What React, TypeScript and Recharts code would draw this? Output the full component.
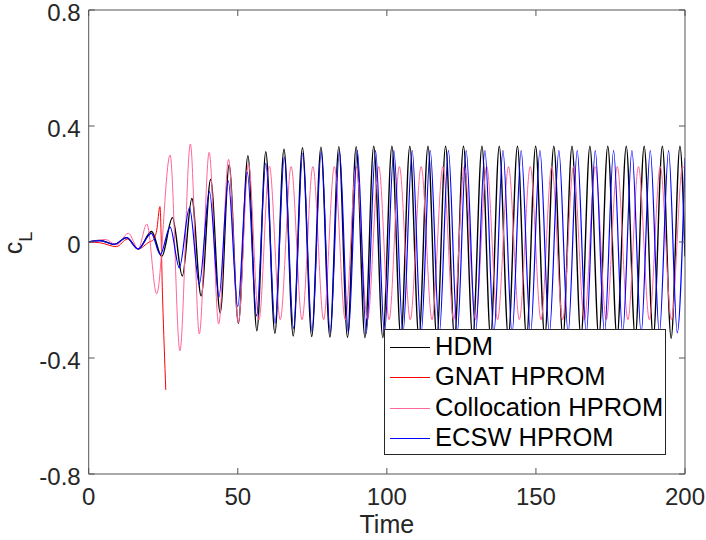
import React from "react";
import { LineChart, Line, XAxis, YAxis, Legend, Label } from "recharts";

// ---------- data ----------
const xTicks = [0, 50, 100, 150, 200];
const yTicks = [-0.8, -0.4, 0, 0.4, 0.8];
const yTickLabels = ["-0.8", "-0.4", "0", "0.4", "0.8"];

const seriesNames = ["HDM", "GNAT HPROM", "Collocation HPROM", "ECSW HPROM"];
const seriesColors = ["#000000", "#ff0000", "#ff6699", "#0000ff"];

// HDM: turning points (time, c_L)
const hdmTime = [
  0, 3.8, 8.6, 12.7, 16.6, 21.1, 24.5, 28.1, 31.4, 34.6, 37.7, 40.9, 44.1, 47.1, 50.2,
  53.4, 56.4, 59.4, 62.45, 65.5, 68.6, 71.7, 74.8, 77.9, 80.9, 83.9, 86.8, 89.7, 92.65,
  95.6, 98.65, 101.7, 104.7, 107.7, 110.75, 113.8, 116.75, 119.7, 122.7, 125.7, 128.8,
  131.9, 134.8, 137.7, 140.75, 143.8, 146.85, 149.9, 152.95, 156.0, 159.05, 162.1, 165.1,
  168.1, 171.1, 174.1, 177.2, 180.3, 183.3, 186.3, 189.35, 192.4, 195.35, 198.3, 200,
];
const hdmValue = [
  0, 0.005, -0.008, 0.015, -0.024, 0.036, -0.05, 0.084, -0.117, 0.15, -0.186, 0.216, -0.244,
  0.266, -0.28, 0.298, -0.306, 0.311, -0.315, 0.32, -0.324, 0.325, -0.326, 0.327, -0.328,
  0.329, -0.329, 0.329, -0.33, 0.33, -0.33, 0.33, -0.33, 0.33, -0.33, 0.33, -0.33, 0.33,
  -0.33, 0.33, -0.33, 0.33, -0.33, 0.33, -0.33, 0.33, -0.33, 0.33, -0.33, 0.33, -0.33,
  0.33, -0.33, 0.33, -0.33, 0.33, -0.33, 0.33, -0.33, 0.33, -0.33, 0.33, -0.332, 0.33, -0.05,
];

// GNAT HPROM (diverges and stops)
const gnatTime = [0, 4, 9.3, 13.0, 16.6, 20.3, 21.7, 22.8, 23.9, 24.8, 25.85];
const gnatValue = [0, -0.003, -0.016, 0.01, -0.024, 0.0, 0.007, 0.04, 0.122, -0.2, -0.51];

// Collocation HPROM
const colTime = [
  0, 2.5, 5.5, 9.3, 13.3, 16.6, 19.5, 22.8, 27.3, 30.6, 34.1, 37.1, 40.4, 43.6, 46.9, 50.2,
  53.6, 57.1, 60.6, 64.25, 67.9, 71.55, 75.2, 78.8, 82.4, 86.05, 89.7, 93.5, 97.3, 100.75,
  104.2, 107.85, 111.5, 115.15, 118.8, 122.4, 126.0, 129.75, 133.5, 137.15, 140.8, 144.45,
  148.1, 151.7, 155.3, 158.95, 162.6, 166.25, 169.9, 173.6, 177.3, 180.85, 184.4, 188.05,
  191.7, 195.45, 199.2, 200,
];
const colValue = [
  0, 0.004, 0.009, -0.01, 0.03, -0.024, 0.062, -0.179, 0.3, -0.375, 0.338, -0.317, 0.309,
  -0.283, 0.285, -0.278, 0.271, -0.269, 0.262, -0.268, 0.26, -0.268, 0.26, -0.268, 0.26,
  -0.268, 0.26, -0.268, 0.26, -0.268, 0.26, -0.268, 0.26, -0.268, 0.26, -0.268, 0.26,
  -0.268, 0.26, -0.268, 0.26, -0.268, 0.26, -0.268, 0.26, -0.268, 0.26, -0.268, 0.26,
  -0.268, 0.26, -0.268, 0.26, -0.268, 0.26, -0.268, 0.26, 0.25,
];

// ECSW HPROM
const ecswTime = [
  0, 3.8, 8.6, 12.7, 16.6, 21.0, 24.0, 27.3, 30.4, 33.8, 37.1, 40.5, 43.7, 46.8, 50.0,
  53.2, 56.3, 59.4, 62.5, 65.6, 68.7, 71.8, 74.9, 78.0, 81.0, 84.1, 87.1, 90.1, 93.1, 96.2,
  99.2, 102.35, 105.4, 108.5, 111.5, 114.55, 117.6, 120.65, 123.6, 126.6, 129.75, 132.9,
  135.9, 138.95, 142.0, 145.05, 148.2, 151.35, 154.5, 157.7, 160.8, 163.85, 166.9, 169.9,
  173.0, 176.05, 179.1, 182.2, 185.3, 188.35, 191.4, 194.5, 197.4, 200,
];
const ecswValue = [
  0, 0.005, -0.008, 0.015, -0.024, 0.03, -0.043, 0.051, -0.089, 0.118, -0.145, 0.174, -0.189,
  0.211, -0.223, 0.24, -0.255, 0.271, -0.28, 0.292, -0.298, 0.306, -0.309, 0.311, -0.312,
  0.313, -0.314, 0.315, -0.315, 0.315, -0.315, 0.315, -0.315, 0.315, -0.315, 0.315, -0.315,
  0.315, -0.315, 0.315, -0.315, 0.315, -0.315, 0.315, -0.315, 0.315, -0.315, 0.315, -0.315,
  0.315, -0.315, 0.315, -0.315, 0.315, -0.315, 0.315, -0.315, 0.315, -0.315, 0.315, -0.315,
  0.315, -0.313, 0.29,
];

// ---------- helpers ----------
const toPoints = (ts: number[], vs: number[]) => ts.map((t, i) => ({ t, v: vs[i] }));
const hdmPoints = toPoints(hdmTime, hdmValue);
const gnatPoints = toPoints(gnatTime, gnatValue);
const colPoints = toPoints(colTime, colValue);
const ecswPoints = toPoints(ecswTime, ecswValue);

const FONT = '"Liberation Sans", Arial, Helvetica, sans-serif';
const AXIS_COLOR = "#262626";
const BOX_COLOR = "#555555";
const TICK_LEN = 6;
const TICK_FONT = 24;

function BottomTick(props: any) {
  const { x, y, payload } = props;
  return (
    <g>
      <line x1={x} x2={x} y1={y} y2={y - TICK_LEN} stroke={BOX_COLOR} strokeWidth={1} />
      <text x={x} y={y + 31} textAnchor="middle" fontFamily={FONT} fontSize={TICK_FONT} fill={AXIS_COLOR}>
        {payload.value}
      </text>
    </g>
  );
}

function TopTick(props: any) {
  const { x, y } = props;
  return <line x1={x} x2={x} y1={y} y2={y + TICK_LEN} stroke={BOX_COLOR} strokeWidth={1} />;
}

function LeftTick(props: any) {
  const { x, y, payload } = props;
  const idx = yTicks.indexOf(payload.value);
  const label = idx >= 0 ? yTickLabels[idx] : String(payload.value);
  return (
    <g>
      <line x1={x} x2={x + TICK_LEN} y1={y} y2={y} stroke={BOX_COLOR} strokeWidth={1} />
      <text x={x - 8} y={y} dy="0.45em" textAnchor="end" fontFamily={FONT} fontSize={TICK_FONT} fill={AXIS_COLOR}>
        {label}
      </text>
    </g>
  );
}

function RightTick(props: any) {
  const { x, y } = props;
  return <line x1={x} x2={x - TICK_LEN} y1={y} y2={y} stroke={BOX_COLOR} strokeWidth={1} />;
}

function TimeLabel(props: any) {
  const { viewBox } = props;
  if (!viewBox) return null;
  return (
    <text
      x={viewBox.x + viewBox.width / 2}
      y={viewBox.y + 59}
      textAnchor="middle"
      fontFamily={FONT}
      fontSize={25}
      fill={AXIS_COLOR}
    >
      Time
    </text>
  );
}

function CLLabel(props: any) {
  const { viewBox } = props;
  if (!viewBox) return null;
  const cx = viewBox.x + viewBox.width - 67;
  const cy = viewBox.y + viewBox.height / 2 + 1;
  return (
    <text
      transform={`translate(${cx},${cy}) rotate(-90)`}
      textAnchor="middle"
      fontFamily={FONT}
      fontSize={25}
      fill={AXIS_COLOR}
    >
      c
      <tspan fontSize={18} dy={10}>
        L
      </tspan>
    </text>
  );
}

function LegendBox() {
  return (
    <div
      style={{
        position: "relative",
        width: "100%",
        height: "100%",
        boxSizing: "border-box",
        border: `1px solid ${AXIS_COLOR}`,
        background: "#ffffff",
        fontFamily: FONT,
      }}
    >
      {seriesNames.map((name, i) => (
        <div key={name} style={{ position: "absolute", left: 0, top: Math.round(1 + i * 30.3), height: 30, width: "100%" }}>
          <div
            style={{
              position: "absolute",
              left: 5,
              top: 16,
              width: 40,
              height: 0,
              borderTop: `1.5px solid ${seriesColors[i]}`,
            }}
          />
          <span
            style={{
              position: "absolute",
              left: 50,
              top: 0,
              lineHeight: "30px",
              fontSize: 25.5,
              color: "#000",
              whiteSpace: "nowrap",
            }}
          >
            {name}
          </span>
        </div>
      ))}
    </div>
  );
}

export default function App() {
  return (
    <div style={{ position: "absolute", left: 0, top: 0, width: 706, height: 540, background: "#fff" }}>
      <LineChart width={706} height={540} margin={{ top: 9, right: 20, bottom: 65, left: 87.7 }}>
        <XAxis
          dataKey="t"
          type="number"
          domain={[0, 200]}
          ticks={xTicks}
          interval={0}
          height={1}
          tickSize={0}
          tickMargin={0}
          allowDataOverflow
          axisLine={{ stroke: BOX_COLOR, strokeWidth: 1 }}
          tickLine={false}
          tick={<BottomTick />}
        >
          <Label content={<TimeLabel />} />
        </XAxis>
        <XAxis
          xAxisId="top"
          orientation="top"
          dataKey="t"
          type="number"
          domain={[0, 200]}
          ticks={xTicks}
          interval={0}
          height={1}
          tickSize={0}
          tickMargin={0}
          allowDataOverflow
          axisLine={{ stroke: BOX_COLOR, strokeWidth: 1 }}
          tickLine={false}
          tick={<TopTick />}
        />
        <YAxis
          type="number"
          domain={[-0.8, 0.8]}
          ticks={yTicks}
          interval={0}
          width={1}
          tickSize={0}
          tickMargin={0}
          allowDataOverflow
          axisLine={{ stroke: BOX_COLOR, strokeWidth: 1 }}
          tickLine={false}
          tick={<LeftTick />}
        >
          <Label content={<CLLabel />} />
        </YAxis>
        <YAxis
          yAxisId="right"
          orientation="right"
          type="number"
          domain={[-0.8, 0.8]}
          ticks={yTicks}
          interval={0}
          width={1}
          tickSize={0}
          tickMargin={0}
          allowDataOverflow
          axisLine={{ stroke: BOX_COLOR, strokeWidth: 1 }}
          tickLine={false}
          tick={<RightTick />}
        />
        <Line
          data={hdmPoints}
          dataKey="v"
          name={seriesNames[0]}
          type="monotone"
          stroke={seriesColors[0]}
          strokeWidth={1.4}
          dot={false}
          activeDot={false}
          isAnimationActive={false}
        />
        <Line
          data={gnatPoints}
          dataKey="v"
          name={seriesNames[1]}
          type="monotone"
          stroke={seriesColors[1]}
          strokeWidth={1}
          dot={false}
          activeDot={false}
          isAnimationActive={false}
        />
        <Line
          data={colPoints}
          dataKey="v"
          name={seriesNames[2]}
          type="monotone"
          stroke={seriesColors[2]}
          strokeWidth={1}
          dot={false}
          activeDot={false}
          isAnimationActive={false}
        />
        <Line
          data={ecswPoints}
          dataKey="v"
          name={seriesNames[3]}
          type="monotone"
          stroke={seriesColors[3]}
          strokeWidth={1.2}
          dot={false}
          activeDot={false}
          isAnimationActive={false}
        />
        <Legend
          layout="vertical"
          align="center"
          verticalAlign="middle"
          content={<LegendBox />}
          wrapperStyle={{ left: 384, top: 329, width: 282, height: 126, margin: 0, padding: 0 }}
        />
      </LineChart>
    </div>
  );
}
